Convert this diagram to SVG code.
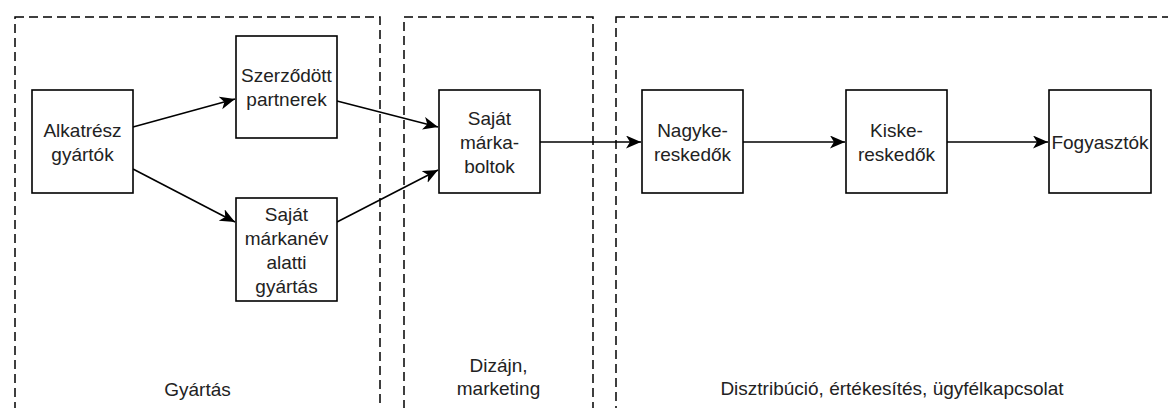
<svg xmlns="http://www.w3.org/2000/svg" width="1168" height="408" viewBox="0 0 1168 408">
<style>
.bg{fill:#ffffff}
.lane{fill:none;stroke:#000;stroke-width:1.5;stroke-dasharray:9 5}
.box{fill:#fff;stroke:#000;stroke-width:1.6}
.t{font-family:"Liberation Sans",Arial,sans-serif;font-size:19px;fill:#222;text-anchor:middle}
.edge{fill:none;stroke:#000;stroke-width:1.6}
</style>
<defs>
<marker id="arr" markerUnits="userSpaceOnUse" markerWidth="16" markerHeight="14" refX="15" refY="6.5" orient="auto">
<path d="M0,0 L15,6.5 L0,13 L4,6.5 Z" fill="#000"/>
</marker>
</defs>
<rect class="bg" x="0" y="0" width="1168" height="408"/>
<g id="lane-gyartas">
<rect class="lane" x="15" y="17" width="365" height="420"/>
<text class="t" x="197.5" y="396">Gyártás</text>
</g>
<g id="lane-dizajn">
<rect class="lane" x="404" y="17" width="189" height="420"/>
<text class="t" x="498.5" y="372">Dizájn,</text>
<text class="t" x="498.5" y="395">marketing</text>
</g>
<g id="lane-disztribucio">
<rect class="lane" x="616" y="17" width="570" height="420"/>
<text class="t" x="892" y="395">Disztribúció, értékesítés, ügyfélkapcsolat</text>
</g>
<g id="connectors">
<path class="edge" d="M133,127 L235,99" marker-end="url(#arr)"/>
<path class="edge" d="M133,169 L235,222" marker-end="url(#arr)"/>
<path class="edge" d="M337,101 L438,127" marker-end="url(#arr)"/>
<path class="edge" d="M337,222 L438,170" marker-end="url(#arr)"/>
<path class="edge" d="M540,142 L641,142" marker-end="url(#arr)"/>
<path class="edge" d="M743,142 L845,142" marker-end="url(#arr)"/>
<path class="edge" d="M947,142 L1048,142" marker-end="url(#arr)"/>
</g>
<g id="alkatresz">
<rect class="box" x="32" y="90" width="101" height="103"/>
<text class="t" x="82.5" y="137">Alkatrész</text>
<text class="t" x="82.5" y="161">gyártók</text>
</g>
<g id="szerzodott">
<rect class="box" x="236" y="36" width="101" height="102"/>
<text class="t" x="286.5" y="82">Szerződött</text>
<text class="t" x="286.5" y="106">partnerek</text>
</g>
<g id="sajat-markanev">
<rect class="box" x="236" y="198" width="101" height="103"/>
<text class="t" x="286.5" y="221">Saját</text>
<text class="t" x="286.5" y="245">márkanév</text>
<text class="t" x="286.5" y="269">alatti</text>
<text class="t" x="286.5" y="293">gyártás</text>
</g>
<g id="sajat-markaboltok">
<rect class="box" x="439" y="90" width="101" height="103"/>
<text class="t" x="489.5" y="125">Saját</text>
<text class="t" x="489.5" y="149">márka-</text>
<text class="t" x="489.5" y="173">boltok</text>
</g>
<g id="nagykereskedok">
<rect class="box" x="642" y="90" width="101" height="103"/>
<text class="t" x="692.5" y="137">Nagyke-</text>
<text class="t" x="692.5" y="161">reskedők</text>
</g>
<g id="kiskereskedok">
<rect class="box" x="846" y="90" width="101" height="103"/>
<text class="t" x="896.5" y="137">Kiske-</text>
<text class="t" x="896.5" y="161">reskedők</text>
</g>
<g id="fogyasztok">
<rect class="box" x="1049" y="90" width="102" height="103"/>
<text class="t" x="1100" y="149">Fogyasztók</text>
</g>
</svg>
